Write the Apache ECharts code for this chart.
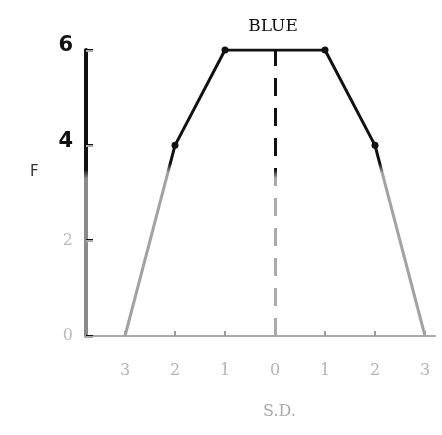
<!DOCTYPE html>
<html>
<head>
<meta charset="utf-8">
<script src="https://cdn.jsdelivr.net/npm/echarts@6/dist/echarts.min.js"></script>
<style>
  html, body { margin: 0; padding: 0; background: #fff; }
  #chart { width: 442px; height: 435px; }
</style>
</head>
<body>
<div id="chart"></div>
<script>
// S.D. positions and F values
var sdValues = [-3, -2, -1, 1, 2, 3];
var fValues = [0, 4, 6, 6, 4, 0];
var sdTicks = [-3, -2, -1, 0, 1, 2, 3];
var meanLine = 0;

var chartDom = document.getElementById('chart');
var myChart = echarts.init(chartDom, null, { renderer: 'canvas' });

// dark at the top, fading to grey near the baseline (like the scan)
function fade(split, low) {
  return new echarts.graphic.LinearGradient(0, 0, 0, 1, [
    { offset: 0, color: '#111' },
    { offset: split, color: '#111' },
    { offset: split + 0.03, color: low },
    { offset: 1, color: low }
  ]);
}

var option = {
  backgroundColor: '#fff',
  animation: false,
  title: [
    {
      text: 'BLUE',
      left: 268,
      textAlign: 'center',
      top: 13,
      textStyle: {
        fontFamily: 'DejaVu Serif',
        fontSize: 17,
        fontWeight: 'normal',
        color: '#111'
      }
    },
    {
      // y axis title sits above the middle of the axis
      text: 'F',
      left: 25,
      top: 160,
      textStyle: {
        fontFamily: 'DejaVu Sans',
        fontSize: 15,
        fontWeight: 'normal',
        color: '#333'
      }
    }
  ],
  grid: {
    left: 86,
    right: 7,
    top: 50,
    bottom: 99
  },
  xAxis: {
    type: 'value',
    min: -3.78,
    max: 3.2,
    name: 'S.D.',
    nameLocation: 'middle',
    nameGap: 68,
    nameTextStyle: {
      fontFamily: 'DejaVu Serif',
      fontSize: 16,
      color: '#aaa',
      padding: [0, 0, 0, 38]
    },
    splitLine: { show: false },
    axisLine: {
      show: true,
      onZero: false,
      lineStyle: { color: '#aaa', width: 2 }
    },
    axisTick: {
      show: true,
      inside: true,
      length: 5,
      customValues: sdTicks,
      lineStyle: { color: '#999', width: 2 }
    },
    axisLabel: {
      customValues: sdTicks,
      margin: 27,
      fontFamily: 'DejaVu Serif',
      fontSize: 16,
      color: '#b4b4b4',
      formatter: function (v) {
        return String(Math.abs(v));
      }
    }
  },
  yAxis: {
    type: 'value',
    min: 0,
    max: 6,
    interval: 2,
    splitLine: { show: false },
    axisLine: {
      show: true,
      onZero: false,
      lineStyle: { color: fade(0.42, '#8a8a8a'), width: 4 }
    },
    axisTick: {
      show: true,
      inside: true,
      length: 7,
      lineStyle: { color: fade(0.42, '#aaa'), width: 3 }
    },
    axisLabel: {
      margin: 13,
      formatter: function (v) {
        return v >= 4 ? '{dark|' + v + '}' : '{light|' + v + '}';
      },
      rich: {
        dark: {
          fontFamily: 'DejaVu Sans',
          fontWeight: 'bold',
          fontSize: 21,
          color: '#111',
          padding: [0, 0, 8, 0]
        },
        light: {
          fontFamily: 'DejaVu Serif',
          fontSize: 16,
          color: '#bbb'
        }
      }
    }
  },
  series: [
    {
      type: 'line',
      data: sdValues.map(function (x, i) { return [x, fValues[i]]; }),
      symbol: 'circle',
      symbolSize: function (val) {
        return val[1] > 0 ? 7 : 0;
      },
      itemStyle: { color: '#111' },
      lineStyle: { width: 3, color: fade(0.4, '#a2a2a2') },
      z: 3
    },
    {
      // dashed line at the mean
      type: 'line',
      data: [],
      markLine: {
        silent: true,
        symbol: 'none',
        label: { show: false },
        lineStyle: {
          type: [18, 12],
          width: 3,
          color: fade(0.42, '#aaa')
        },
        data: [{ xAxis: meanLine }]
      }
    }
  ]
};

myChart.setOption(option);
</script>
</body>
</html>
